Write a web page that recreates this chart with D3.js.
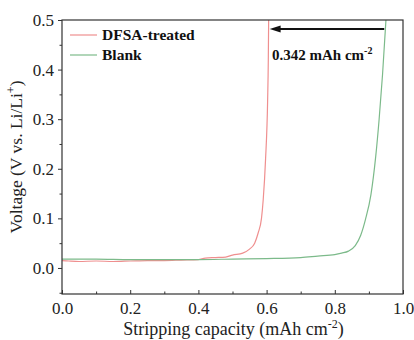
<!DOCTYPE html>
<html>
<head>
<meta charset="utf-8">
<script src="https://cdn.jsdelivr.net/npm/d3@7"></script>
<style>
  body { margin: 0; background: #fff; }
  text { font-family: "Liberation Serif", "Times New Roman", serif; }
</style>
</head>
<body>
<svg id="chart" width="414" height="340"></svg>
<script>
// stripping curves
const dfsaCap = [0, 0.02, 0.05, 0.1, 0.15, 0.2, 0.25, 0.3, 0.35, 0.4, 0.42, 0.45, 0.48, 0.5, 0.53, 0.55, 0.565, 0.575, 0.585, 0.59, 0.597, 0.603, 0.605, 0.606]
const dfsaV   = [0.015, 0.014, 0.013, 0.014, 0.013, 0.014, 0.015, 0.015, 0.016, 0.017, 0.02, 0.021, 0.022, 0.026, 0.03, 0.038, 0.05, 0.07, 0.1, 0.137, 0.22, 0.337, 0.42, 0.5]
const blankCap = [0, 0.1, 0.2, 0.3, 0.4, 0.5, 0.6, 0.7, 0.75, 0.8, 0.82, 0.84, 0.86, 0.876, 0.89, 0.906, 0.92, 0.93, 0.94, 0.95]
const blankV   = [0.018, 0.018, 0.017, 0.017, 0.017, 0.018, 0.019, 0.021, 0.024, 0.027, 0.03, 0.034, 0.045, 0.066, 0.098, 0.148, 0.225, 0.3, 0.39, 0.5]
const xTicks = [0, 0.2, 0.4, 0.6, 0.8, 1.0]
const yTicks = [0, 0.1, 0.2, 0.3, 0.4, 0.5]

const series = [
  { name: "DFSA-treated", color: "#ef8f8f", x: dfsaCap, y: dfsaV },
  { name: "Blank", color: "#7cba8a", x: blankCap, y: blankV }
]

const margin = { left: 62, right: 11, top: 20, bottom: 46 }
const width = 414, height = 340
const yMin = -0.0525

const svg = d3.select("#chart")

const x = d3.scaleLinear().domain([0, 1]).range([margin.left, width - margin.right])
const y = d3.scaleLinear().domain([yMin, 0.5]).range([height - margin.bottom, margin.top])

// curves
const line = d3.line().x(d => x(d[0])).y(d => y(d[1])).curve(d3.curveMonotoneX)
series.forEach(s => {
  svg.append("path")
    .datum(s.x.map((v, i) => [v, s.y[i]]))
    .attr("d", line)
    .attr("fill", "none")
    .attr("stroke", s.color)
    .attr("stroke-width", 1.2)
})

// frame
svg.append("rect")
  .attr("x", x(0)).attr("y", y(0.5))
  .attr("width", x(1) - x(0)).attr("height", y(yMin) - y(0.5))
  .attr("fill", "none").attr("stroke", "#333").attr("stroke-width", 1.2)

// bottom axis, ticks pointing in
const xAxis = svg.append("g")
  .attr("transform", "translate(0," + y(yMin) + ")")
  .call(d3.axisBottom(x).tickValues(xTicks).tickFormat(d3.format(".1f")).tickSize(-4).tickPadding(8))
xAxis.select(".domain").remove()
xAxis.selectAll("line").attr("stroke", "#333")
xAxis.selectAll("text").attr("font-size", 17).attr("fill", "#222")
svg.append("g")
  .attr("transform", "translate(0," + y(yMin) + ")")
  .call(d3.axisBottom(x).tickValues([0.1, 0.3, 0.5, 0.7, 0.9]).tickFormat("").tickSize(-2.5))
  .call(g => g.select(".domain").remove())
  .selectAll("line").attr("stroke", "#333")

// left axis, ticks pointing out
const yAxis = svg.append("g")
  .attr("transform", "translate(" + x(0) + ",0)")
  .call(d3.axisLeft(y).tickValues(yTicks).tickFormat(d3.format(".1f")).tickSize(4).tickPadding(4))
yAxis.select(".domain").remove()
yAxis.selectAll("line").attr("stroke", "#333")
yAxis.selectAll("text").attr("font-size", 17).attr("fill", "#222")
svg.append("g")
  .attr("transform", "translate(" + x(0) + ",0)")
  .call(d3.axisLeft(y).tickValues([-0.05, 0.05, 0.15, 0.25, 0.35, 0.45]).tickFormat("").tickSize(2.5))
  .call(g => g.select(".domain").remove())
  .selectAll("line").attr("stroke", "#333")

// axis titles
svg.append("text")
  .attr("x", (x(0) + x(1)) / 2 + 1).attr("y", 335)
  .attr("text-anchor", "middle").attr("font-size", 18).attr("fill", "#222")
  .html('Stripping capacity (mAh cm<tspan dy="-7" font-size="12">-2</tspan><tspan dy="7">)</tspan>')

svg.append("text")
  .attr("transform", "translate(22," + ((y(0.5) + y(yMin)) / 2) + ") rotate(-90)")
  .attr("text-anchor", "middle").attr("font-size", 17.5).attr("fill", "#222")
  .html('Voltage (V vs. Li/Li<tspan dy="-7" font-size="12">+</tspan><tspan dy="7">)</tspan>')

// legend
const legend = svg.append("g").attr("transform", "translate(70,35)")
series.forEach((s, i) => {
  legend.append("line")
    .attr("x1", 0).attr("x2", 27)
    .attr("y1", i * 20).attr("y2", i * 20)
    .attr("stroke", s.color).attr("stroke-width", 1.2)
  legend.append("text")
    .attr("x", 32).attr("y", i * 20 + 5)
    .attr("font-size", 15.5).attr("font-weight", "bold").attr("fill", "#111")
    .text(s.name)
})

// capacity difference arrow
const arrowY = 29
const tip = x(0.606) + 1
svg.append("line")
  .attr("x1", x(0.945)).attr("x2", tip + 8)
  .attr("y1", arrowY).attr("y2", arrowY)
  .attr("stroke", "#111").attr("stroke-width", 2)
svg.append("path")
  .attr("d", d3.line()([[tip, arrowY], [tip + 11, arrowY - 3.5], [tip + 11, arrowY + 3.5]]) + "Z")
  .attr("fill", "#111")

svg.append("text")
  .attr("x", 272).attr("y", 60)
  .attr("font-size", 15).attr("font-weight", "bold").attr("fill", "#111")
  .html('0.342 mAh cm<tspan dy="-6" font-size="10">-2</tspan>')
</script>
</body>
</html>
